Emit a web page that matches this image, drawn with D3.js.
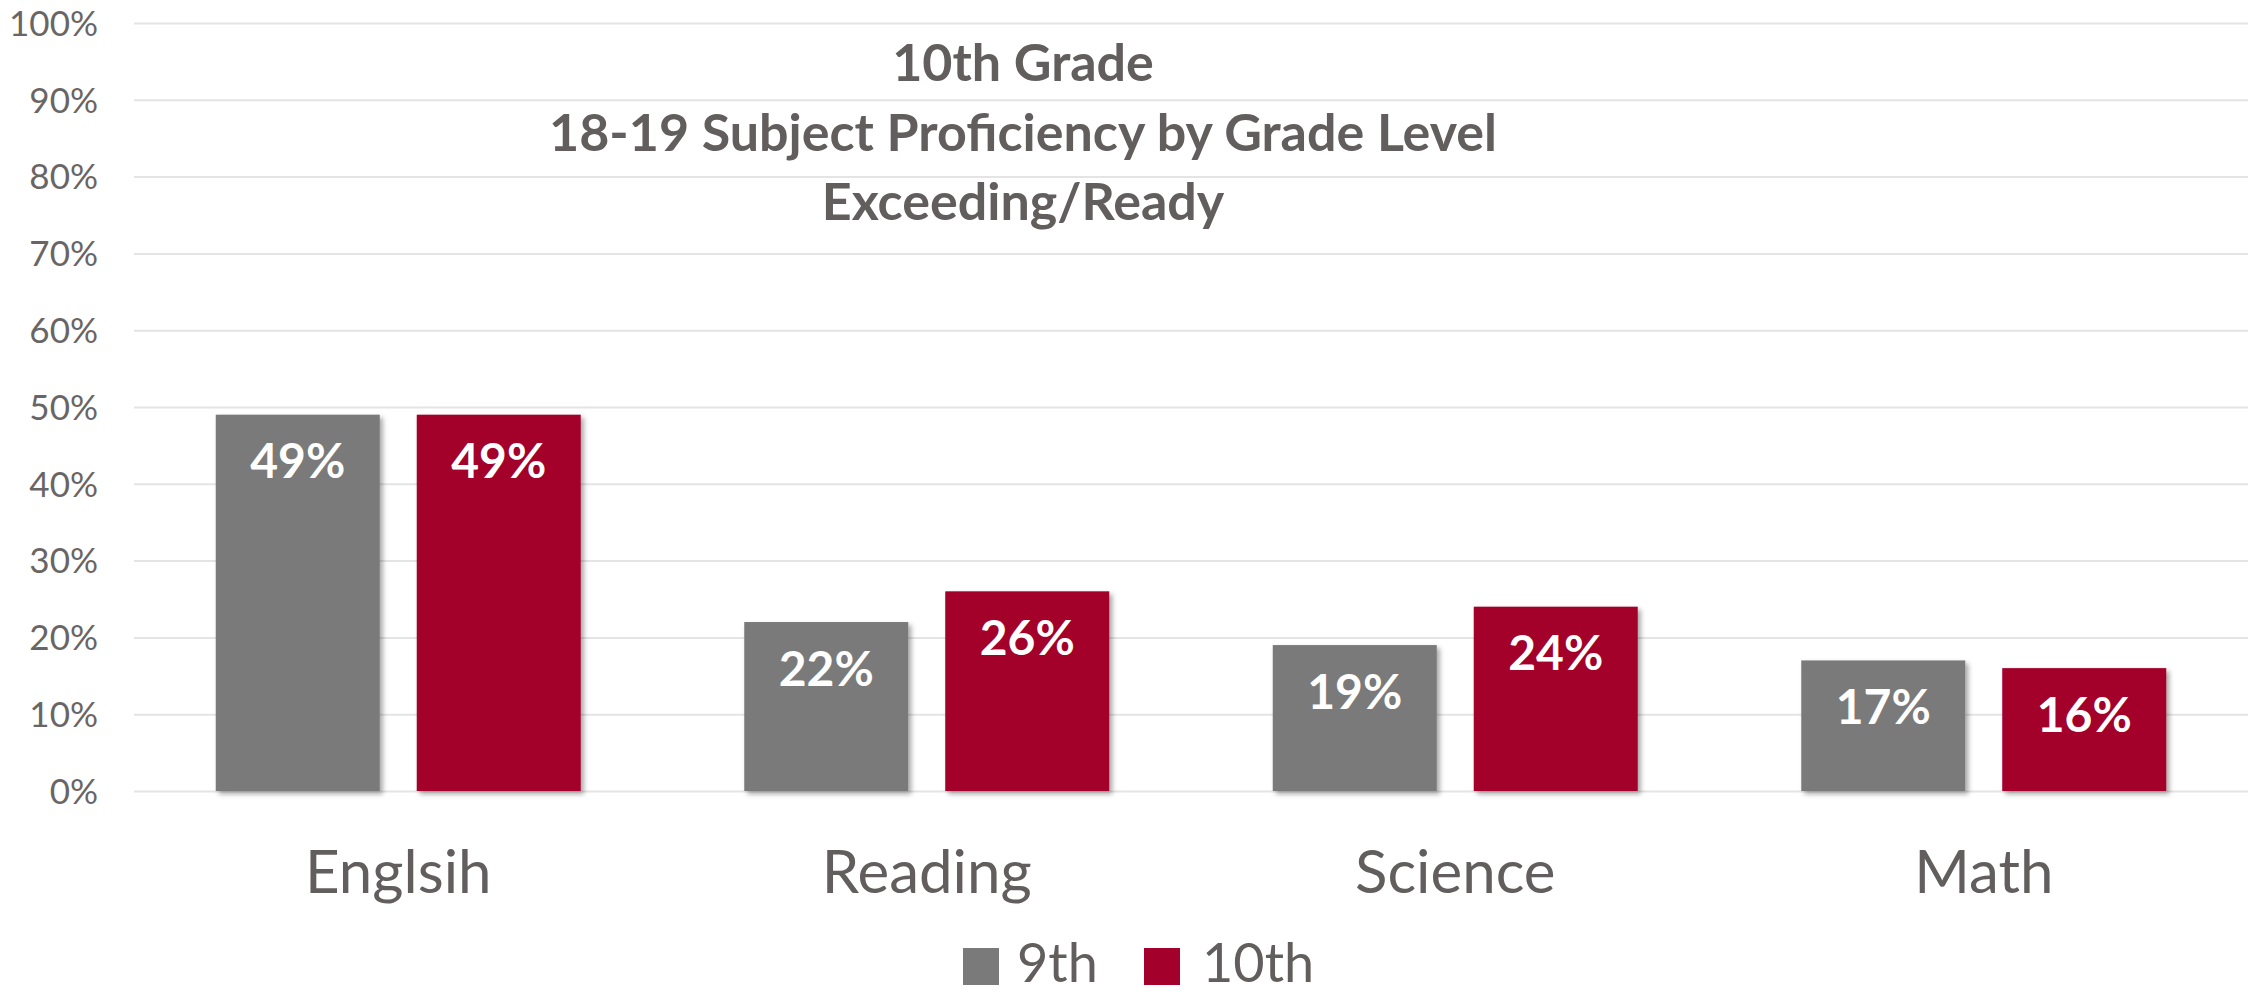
<!DOCTYPE html>
<html>
<head>
<meta charset="utf-8">
<script src="https://cdn.jsdelivr.net/npm/d3@7"></script>
<style>
  html, body { margin: 0; padding: 0; background: #ffffff; }
  svg { display: block; }
</style>
</head>
<body>
<svg id="chart" width="2259" height="996"></svg>
<script>
// Subject proficiency data (share of students Exceeding/Ready)
const categories = ["Englsih", "Reading", "Science", "Math"];
const seriesNames = ["9th", "10th"];
const values9th  = [0.49, 0.22, 0.19, 0.17];
const values10th = [0.49, 0.26, 0.24, 0.16];
const yTicks = [0, 0.1, 0.2, 0.3, 0.4, 0.5, 0.6, 0.7, 0.8, 0.9, 1.0];
const titleLines = ["10th Grade", "18-19 Subject Proficiency by Grade Level", "Exceeding/Ready"];
const seriesColors = ["#7a7a7a", "#a3002b"];

const seriesValues = [values9th, values10th];
const rows = categories.map((c, i) => ({
  category: c,
  bars: seriesNames.map((s, j) => ({ series: s, value: seriesValues[j][i], color: seriesColors[j] }))
}));

const svg = d3.select("#chart");
const textColor = "#635e5e";
const font = "Lato, 'Open Sans', sans-serif";

const plot = { left: 134, right: 2248, top: 23, bottom: 791 };

const y = d3.scaleLinear().domain([0, 1]).range([plot.bottom, plot.top]);
const x0 = d3.scaleBand().domain(categories).range([plot.left, plot.right]).paddingInner(0).paddingOuter(0);

// two bars per category, centred in the band with a gap between them
const groupInset = x0.bandwidth() * 0.1547;
const x1 = d3.scaleBand().domain(seriesNames)
  .range([groupInset, x0.bandwidth() - groupInset])
  .paddingInner(0.184).paddingOuter(0);

// soft shadow under the bars
const defs = svg.append("defs");
const filt = defs.append("filter").attr("id", "barShadow")
  .attr("x", "-10%").attr("y", "-10%").attr("width", "125%").attr("height", "125%");
filt.append("feDropShadow").attr("dx", 3).attr("dy", 3).attr("stdDeviation", 2.5)
  .attr("flood-color", "#000").attr("flood-opacity", 0.35);

// gridlines + y-axis labels
const yAxis = d3.axisLeft(y).tickValues(yTicks).tickFormat(d3.format(".0%"))
  .tickSize(-(plot.right - plot.left)).tickPadding(36);
const gy = svg.append("g").attr("transform", `translate(${plot.left},0)`).call(yAxis);
gy.select(".domain").remove();
gy.selectAll(".tick line").attr("stroke", "#e4e4e4").attr("stroke-width", 2);
gy.selectAll(".tick text").attr("fill", "#6a6565").attr("font-family", font)
  .attr("font-size", 35).attr("dy", "0.35em");

// title
svg.append("g").selectAll("text").data(titleLines).join("text")
  .attr("x", 1023).attr("y", (d, i) => 63 + i * 69.5)
  .attr("dy", "0.35em")
  .attr("text-anchor", "middle")
  .attr("font-family", font).attr("font-weight", 700).attr("font-size", 52)
  .attr("fill", textColor)
  .text(d => d);

// bars
const groups = svg.append("g").selectAll("g").data(rows).join("g")
  .attr("transform", d => `translate(${x0(d.category)},0)`);

groups.selectAll("rect").data(d => d.bars).join("rect")
  .attr("x", d => x1(d.series))
  .attr("y", d => y(d.value))
  .attr("width", x1.bandwidth())
  .attr("height", d => y(0) - y(d.value))
  .attr("fill", d => d.color)
  .attr("filter", "url(#barShadow)");

// value labels inside the bars
groups.selectAll("text.val").data(d => d.bars).join("text")
  .attr("class", "val")
  .attr("x", d => x1(d.series) + x1.bandwidth() / 2)
  .attr("y", d => y(d.value) + 47)
  .attr("dy", "0.35em")
  .attr("text-anchor", "middle")
  .attr("font-family", font).attr("font-weight", 700).attr("font-size", 48)
  .attr("fill", "#ffffff")
  .text(d => d3.format(".0%")(d.value));

// category axis
const xAxis = d3.axisBottom(x0).tickSize(0).tickPadding(0);
const gx = svg.append("g").attr("transform", `translate(0,${plot.bottom})`).call(xAxis);
gx.select(".domain").remove();
gx.selectAll(".tick text").attr("fill", textColor).attr("font-family", font)
  .attr("font-size", 60).attr("y", 81).attr("dy", "0.35em");

// legend
const legendItems = [
  { name: seriesNames[0], color: seriesColors[0], sx: 963, tx: 1017 },
  { name: seriesNames[1], color: seriesColors[1], sx: 1144, tx: 1202 }
];
const lg = svg.append("g");
lg.selectAll("rect").data(legendItems).join("rect")
  .attr("x", d => d.sx).attr("y", 948).attr("width", 36).attr("height", 37)
  .attr("fill", d => d.color);
lg.selectAll("text").data(legendItems).join("text")
  .attr("x", d => d.tx).attr("y", 982)
  .attr("font-family", font).attr("font-size", 54)
  .attr("fill", textColor)
  .text(d => d.name);
</script>
</body>
</html>
